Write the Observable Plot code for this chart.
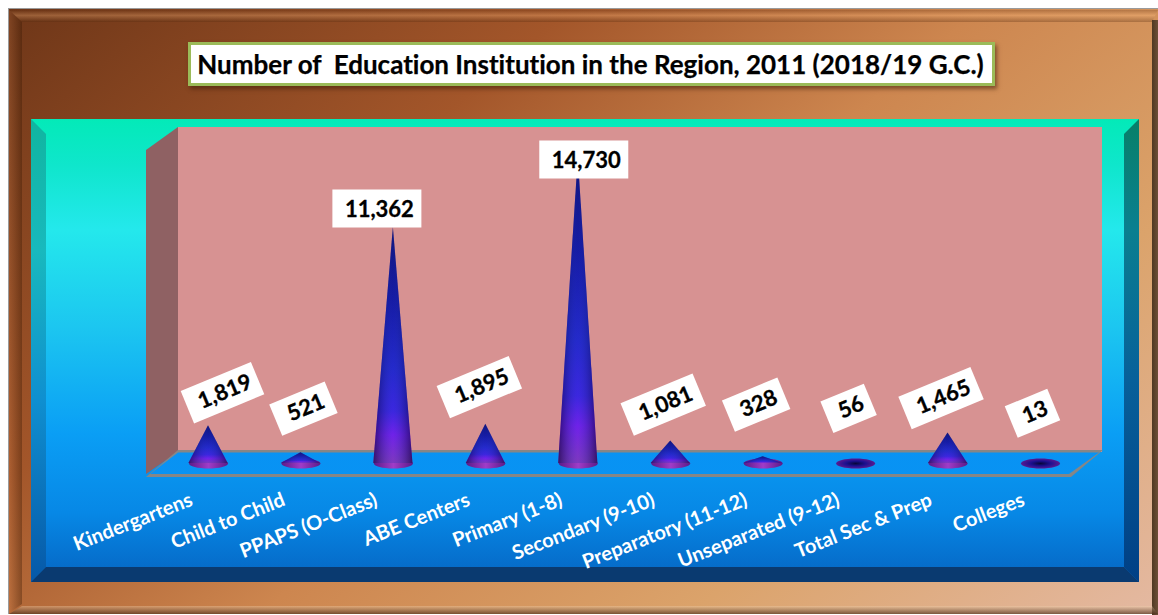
<!DOCTYPE html>
<html><head><meta charset="utf-8">
<script src="https://cdn.jsdelivr.net/npm/d3@7"></script>
<script src="https://cdn.jsdelivr.net/npm/@observablehq/plot@0.6"></script>
<style>
html,body{margin:0;padding:0;background:#fff;overflow:hidden}
#stage{position:relative;width:1158px;height:615px;overflow:hidden;font-family:Lato,sans-serif;font-variant-ligatures:none}
#stage>div,#stage>svg{position:absolute}
.shape{left:0;top:0;width:1158px;height:615px}
#title{left:188px;top:42px;width:801px;height:38px;line-height:38px;background:#fff;border:3px solid #9bbb59;box-shadow:2px 3px 4px rgba(60,30,10,.55);font-weight:700;font-size:26px;color:#000;white-space:pre;text-align:center;-webkit-text-stroke:.25px #000;text-indent:-2px}
text{font-variant-ligatures:none}
</style></head><body>
<div id="stage">
 <div class="shape" style="left:8px;top:8px;width:1150px;height:606px;background:#9a9a9a"></div>
 <div class="shape" style="left:9px;top:9px;width:1149px;height:605px;background:linear-gradient(140deg,#6e3618 0%,#a3562a 30%,#cd864f 52%,#dba36b 75%,#e4b9a2 100%)"></div>
 <div class="shape" style="left:9px;top:10px;width:1149px;height:12px;background:linear-gradient(180deg,rgba(90,40,10,.25),rgba(255,190,130,.3) 45%,rgba(70,30,5,.3));clip-path:polygon(0 0,100% 0,calc(100% - 6px) 100%,13px 100%)"></div>
 <div class="shape" style="left:9px;top:10px;width:13px;height:603px;background:linear-gradient(90deg,rgba(255,170,110,.12),rgba(50,20,0,.35));clip-path:polygon(0 0,100% 12px,100% calc(100% - 9px),0 100%)"></div>
 <div class="shape" style="left:1152px;top:20px;width:6px;height:595px;background:linear-gradient(90deg,#4f3822,#6d5037)"></div>
 <div class="shape" style="left:9px;top:606px;width:1149px;height:8px;background:linear-gradient(180deg,rgba(255,225,190,.35),rgba(80,50,30,.7));clip-path:polygon(13px 0,calc(100% - 6px) 0,100% 100%,0 100%)"></div>

 <div class="shape" style="left:31px;top:119px;width:1108px;height:463px;background:linear-gradient(180deg,#03eab8 0%,#0fe6cc 10%,#24e8ec 24%,#1cc6f0 45%,#0a9ef5 68%,#0788e6 85%,#0565c2 100%)"></div>
 <div class="shape" style="clip-path:polygon(31px 119px,46px 134px,46px 567px,31px 582px);background:linear-gradient(180deg,#10b5a0 119px,#18b9bd 250px,#0f8fd0 400px,#0658a8 582px)"></div>
 <div class="shape" style="clip-path:polygon(1139px 119px,1124px 134px,1124px 567px,1139px 582px);background:linear-gradient(180deg,#078068 119px,#0a7f90 230px,#07609a 380px,#003f85 582px)"></div>
 <div class="shape" style="clip-path:polygon(31px 582px,46px 567px,1124px 567px,1139px 582px);background:#0a3a70"></div>

 <div class="shape" style="clip-path:polygon(178px 127px,1102px 127px,1102px 452px,178px 452px);background:#d79292"></div>
 <div class="shape" style="clip-path:polygon(146px 150px,178px 127px,178px 452px,146px 474px);background:#8f6163"></div>
 <div class="shape" style="clip-path:polygon(178px 450px,1103px 450px,1071px 477px,146px 477px);background:#868686"></div>
 <div class="shape" style="clip-path:polygon(178px 452.5px,1099px 452.5px,1069px 474px,150px 474px);background:linear-gradient(180deg,#0a98f7,#0891f2)"></div>

 <div id="title">Number of  Education Institution in the Region, 2011 (2018/19 G.C.)</div>

 <svg width="0" height="0" style="left:0;top:0">
  <defs>
   <linearGradient id="coneBody" x1="0" y1="0" x2="0" y2="1">
    <stop offset="0" stop-color="#060660"/>
    <stop offset=".3" stop-color="#0c0c90"/>
    <stop offset=".6" stop-color="#1e1ec0"/>
    <stop offset=".78" stop-color="#3a1ad8"/>
    <stop offset=".88" stop-color="#7a14e4"/>
    <stop offset="1" stop-color="#8c30b0"/>
   </linearGradient>
   <linearGradient id="coneShade" x1="0" y1="0" x2="1" y2="0">
    <stop offset="0" stop-color="#000030" stop-opacity=".6"/>
    <stop offset=".5" stop-color="#4060ff" stop-opacity=".18"/>
    <stop offset="1" stop-color="#000030" stop-opacity=".6"/>
   </linearGradient>
   <linearGradient id="baseLit" x1="0" y1="0" x2="1" y2="0">
    <stop offset="0" stop-color="#5c1a88"/>
    <stop offset=".5" stop-color="#a03cc8"/>
    <stop offset="1" stop-color="#5c1a88"/>
   </linearGradient>
   <radialGradient id="baseFlat">
    <stop offset="0" stop-color="#06063a"/>
    <stop offset=".5" stop-color="#1c1090"/>
    <stop offset="1" stop-color="#5a1a90"/>
   </radialGradient>
  </defs>
 </svg>
 <div id="chart" style="left:0;top:0"></div>
</div>
<script>
const categories = ["Kindergartens","Child to Child","PPAPS (O-Class)","ABE Centers","Primary (1-8)","Secondary (9-10)","Preparatory (11-12)","Unseparated (9-12)","Total Sec & Prep","Colleges"];
const counts = [1819,521,11362,1895,14730,1081,328,56,1465,13];

// label placement relative to each cone's tip (pixels), not data
const labelDx = [14,2.5,-16.5,-6.5,5.5,-7.5,-7,-7,-7,-8];
const labelDy = [-33,-44,-19,-37,2,-36.5,-52,-54,-35,-50];
const labelW  = [76,60,89,78,89,78,60,47,78,46];
const labelH  = [35,34,38,35,38,35,34,34,35,34];
const labelAngle = [-22.5,-22.5,0,-22.5,0,-22.5,-22.5,-22.5,-22.5,-22.5];

const rows = categories.map((name,i)=>({i,name,value:counts[i]}));
const coneHalf = 0.212;
const conePoints = rows.flatMap(r=>[
  {i:r.i,x:r.i-coneHalf,y:0},
  {i:r.i,x:r.i,y:r.value},
  {i:r.i,x:r.i+coneHalf,y:0}
]);
const ellipse = {draw(ctx){
  const a=19.5,b=5,ka=a*0.5523,kb=b*0.5523;
  ctx.moveTo(-a,0);
  ctx.bezierCurveTo(-a,-kb,-ka,-b,0,-b);
  ctx.bezierCurveTo(ka,-b,a,-kb,a,0);
  ctx.bezierCurveTo(a,kb,ka,b,0,b);
  ctx.bezierCurveTo(-ka,b,-a,kb,-a,0);
  ctx.closePath();
}};
const boxSymbol = (w,h)=>({draw(ctx){ctx.rect(-w/2,-h/2,w,h);}});
const fmt = d3.format(",");

const marks = [
  Plot.dot(rows.filter(r=>r.value>=100),{x:"i",y:0,symbol:ellipse,fill:"url(#baseLit)",r:5}),
  Plot.dot(rows.filter(r=>r.value<100),{x:"i",y:0,symbol:ellipse,fill:"url(#baseFlat)",r:5}),
  Plot.areaY(conePoints.filter(d=>counts[d.i]>=100),{x:"x",y:"y",z:"i",fill:"url(#coneBody)",curve:"linear"}),
  Plot.areaY(conePoints.filter(d=>counts[d.i]>=100),{x:"x",y:"y",z:"i",fill:"url(#coneShade)",curve:"linear"}),
  Plot.axisX({ticks:rows.map(r=>r.i),tickFormat:i=>categories[i],tickSize:0,tickPadding:0,tickRotate:-21.5,textAnchor:"end",fontSize:20,fontWeight:700,fill:"#fff",color:"#fff",dx:-17,dy:35.5,label:null}),
  ...rows.flatMap((r,k)=>[
    Plot.dot([r],{x:"i",y:"value",symbol:boxSymbol(labelW[k],labelH[k]),fill:"#fff",r:5,rotate:labelAngle[k],dx:labelDx[k],dy:labelDy[k]}),
    Plot.text([r],{x:"i",y:"value",text:d=>fmt(d.value),rotate:labelAngle[k],dx:labelDx[k]+2.5,dy:labelDy[k]+(labelAngle[k]?-1:1),fontSize:22,fontWeight:700,fill:"#000",stroke:"#000",strokeWidth:.3})
  ])
];
const chart = Plot.plot({
  width:1158,height:615,
  marginLeft:208,marginRight:118,marginTop:157,marginBottom:152,
  style:{background:"transparent",fontFamily:"Lato,sans-serif",overflow:"visible"},
  x:{type:"linear",domain:[0,9],axis:null},
  y:{domain:[0,14730],axis:null},
  marks
});
document.getElementById("chart").appendChild(chart);
</script>
</body></html>
